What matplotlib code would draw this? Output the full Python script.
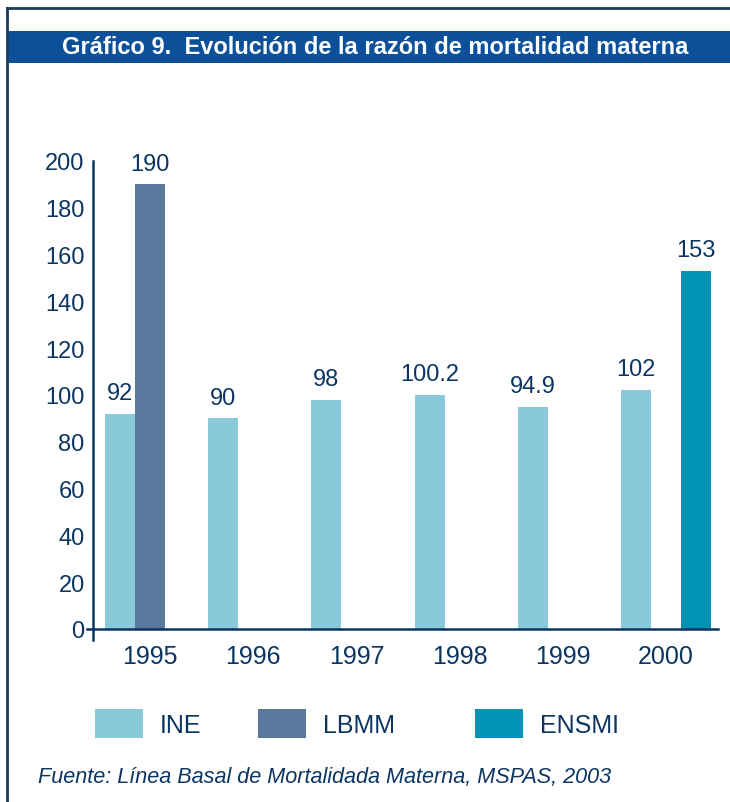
import numpy as np
import matplotlib
matplotlib.use("Agg")
import matplotlib.pyplot as plt
from matplotlib.patches import Rectangle
from matplotlib.lines import Line2D

plt.rcParams['font.family'] = ['Liberation Sans', 'DejaVu Sans']

# ---------------- DATA ----------------
years = ['1995', '1996', '1997', '1998', '1999', '2000']
ine = [92, 90, 98, 100.2, 94.9, 102]
lbmm = [190, np.nan, np.nan, np.nan, np.nan, np.nan]
ensmi = [np.nan, np.nan, np.nan, np.nan, np.nan, 153]
series_names = ['INE', 'LBMM', 'ENSMI']
series_colors = ['#89c9d9', '#5b789d', '#0093b3']
title = 'Gráfico 9.  Evolución de la razón de mortalidad materna'
source = 'Fuente: Línea Basal de Mortalidada Materna, MSPAS, 2003'

navy = '#0d3561'
W, H = 730, 803


def fx(x):
    return x / W


def fy(y):
    return 1 - y / H


fig = plt.figure(figsize=(W / 100, H / 100), dpi=100)

# ---------------- FRAME + TITLE BAR ----------------
fig.add_artist(Line2D([fx(7), fx(730)], [fy(9), fy(9)], color='#1e3a5a', lw=2))
fig.add_artist(Line2D([fx(7), fx(7)], [fy(9), fy(803)], color='#1e3a5a', lw=2))
fig.add_artist(Rectangle((fx(8), fy(64)), fx(730) - fx(8), 32 / H,
                         transform=fig.transFigure, color='#0b5099', lw=0))
fig.text(fx(375), fy(48), title, color='white', fontsize=17, fontweight='bold',
         ha='center', va='center')

# ---------------- AXES ----------------
spacing = 103.2  # px per group
zero_y, top_y = 630, 162
ax = fig.add_axes([fx(93), fy(zero_y), (718 - 93) / W, (zero_y - top_y) / H])
xmin = (93 - 150) / spacing
xmax = xmin + (718 - 93) / spacing
ax.set_xlim(xmin, xmax)
ax.set_ylim(0, 200)
for s in ax.spines.values():
    s.set_visible(False)

w = 30 / spacing
x = np.arange(len(years))
for k, (vals, col) in enumerate(zip([ine, lbmm, ensmi], series_colors)):
    vals = np.array(vals, dtype=float)
    m = ~np.isnan(vals)
    xs = x[m] + (k - 1) * w
    ax.bar(xs, vals[m], width=w, color=col, zorder=2)
    for xi, v in zip(xs, vals[m]):
        ax.annotate(f"{v:g}", (xi, v), xytext=(0, 15), textcoords='offset points',
                    ha='center', va='center', fontsize=17, color=navy)

# axis lines
px_unit = (zero_y - top_y) / 200
ax.plot([xmin, xmin], [-11 / px_unit, 200], color=navy, lw=1.8, clip_on=False, zorder=3)
ax.plot([xmin, xmax], [0, 0], color=navy, lw=1.8, clip_on=False, zorder=3)
ax.plot([xmin - 6 / spacing, xmin], [0, 0], color=navy, lw=1.8, clip_on=False, zorder=3)

ax.set_yticks(range(0, 201, 20))
ax.set_xticks([])
ax.tick_params(axis='y', length=0, pad=6, labelsize=17, labelcolor=navy)

for xi, yr in zip(x, years):
    ax.text(xi, -27 / px_unit, yr, ha='center', va='center', fontsize=18,
            color=navy, clip_on=False)

# ---------------- LEGEND ----------------
leg_x = [95, 258, 475]
for lx, name, col in zip(leg_x, series_names, series_colors):
    fig.add_artist(Rectangle((fx(lx), fy(739)), 48 / W, 29 / H,
                             transform=fig.transFigure, color=col, lw=0))
    fig.text(fx(lx + 65), fy(726), name, fontsize=18, color=navy,
             ha='left', va='center')

fig.text(fx(38), fy(778), source, fontsize=15.6, style='italic', color=navy,
         ha='left', va='center')

fig.savefig('out.png', dpi=100)
